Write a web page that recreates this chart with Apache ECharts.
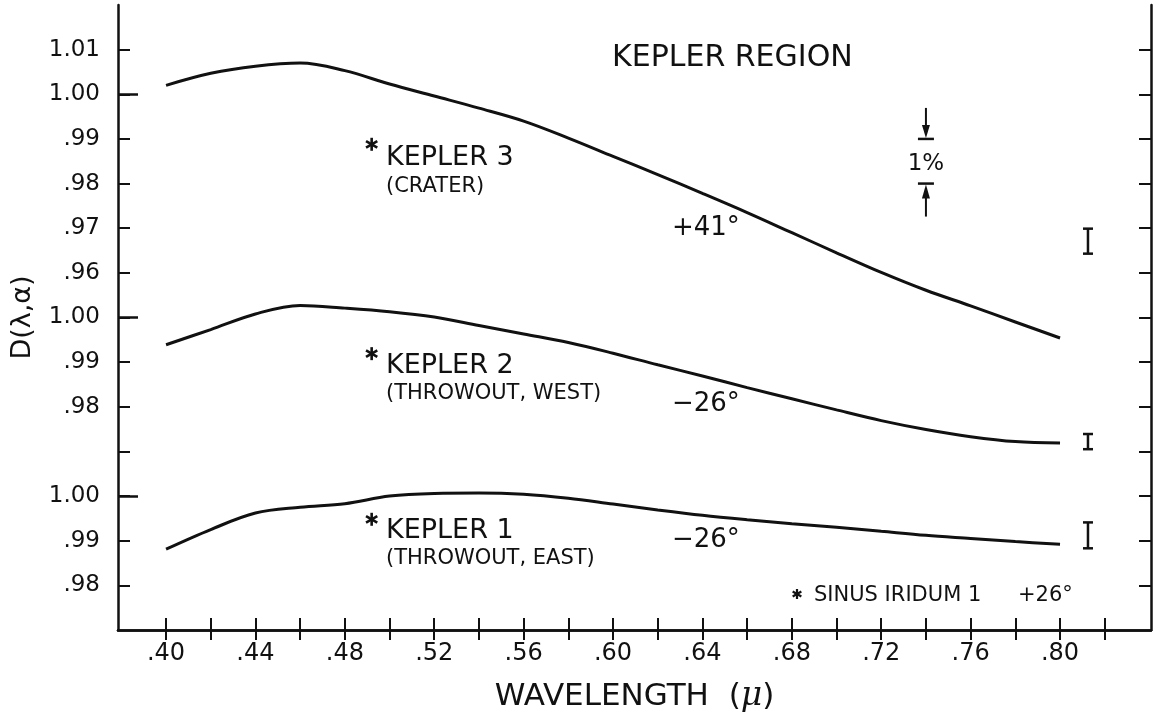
<!DOCTYPE html>
<html>
<head>
<meta charset="utf-8">
<title>Kepler Region</title>
<script src="https://cdn.jsdelivr.net/npm/echarts@6/dist/echarts.min.js"></script>
<style>
  html, body { margin: 0; padding: 0; background: #fff; }
  #chart { width: 1157px; height: 724px; }
</style>
</head>
<body>
<div id="chart"></div>
<script>
// Wavelength samples (microns)
const wavelengths = [0.40, 0.42, 0.44, 0.46, 0.48, 0.50, 0.52, 0.54, 0.56, 0.58, 0.60,
                     0.62, 0.64, 0.66, 0.68, 0.70, 0.72, 0.74, 0.76, 0.78, 0.80];

// D(lambda, alpha) for each site
const kepler3 = [1.0020, 1.0047, 1.0063, 1.0070, 1.0053, 1.0023, 0.9996, 0.9969, 0.9940, 0.9902, 0.9861,
                 0.9820, 0.9778, 0.9735, 0.9690, 0.9645, 0.9601, 0.9561, 0.9526, 0.9490, 0.9454];
const kepler2 = [0.9939, 0.9973, 1.0008, 1.0027, 1.0021, 1.0013, 1.0001, 0.9982, 0.9963, 0.9944, 0.9920,
                 0.9894, 0.9869, 0.9843, 0.9818, 0.9793, 0.9769, 0.9749, 0.9733, 0.9722, 0.9719];
const kepler1 = [0.9881, 0.9925, 0.9962, 0.9975, 0.9983, 1.0000, 1.0006, 1.0007, 1.0004, 0.9995, 0.9982,
                 0.9969, 0.9957, 0.9947, 0.9938, 0.9930, 0.9921, 0.9912, 0.9905, 0.9898, 0.9892];

// Sinus Iridum 1 reference points (asterisks), order: Kepler 3, Kepler 2, Kepler 1
const asteriskLambda = 0.492;
const asteriskValues = [0.9888, 0.9919, 0.9948];

// Error bars at the right edge, order: Kepler 3, Kepler 2, Kepler 1
const errorLambda = 0.8125;
const errorCenters = [0.9671, 0.9722, 0.9912];
const errorHalf = [0.0028, 0.0017, 0.0029];

// 1% scale marker (top panel)
const scaleLambda = 0.74;
const scaleRange = [0.98, 0.99];

// Axis ticks and labels
const xTickValues = [0.40, 0.42, 0.44, 0.46, 0.48, 0.50, 0.52, 0.54, 0.56, 0.58, 0.60,
                     0.62, 0.64, 0.66, 0.68, 0.70, 0.72, 0.74, 0.76, 0.78, 0.80, 0.82];
const xLabelValues = [0.40, 0.44, 0.48, 0.52, 0.56, 0.60, 0.64, 0.68, 0.72, 0.76, 0.80];
const yTickLabels = ['.98', '.99', '1.00', '', '.98', '.99', '1.00', '.96', '.97', '.98', '.99', '1.00', '1.01'];

// Each panel is shifted onto one shared stacked scale (1 unit = 0.01 in D)
// panel 0 = Kepler 3 (top), 1 = Kepler 2 (middle), 2 = Kepler 1 (bottom)
const panelShift = [88, 93, 97];
const toPos = (d, panel) => d * 100 - panelShift[panel];

const INK = '#111';
const FONT = 'DejaVu Sans';

const yTickPositions = yTickLabels.map((_, i) => i + 1);
const longTickPositions = [3, 7, 12];

function curveData(values, panel) {
  return wavelengths.map((w, i) => [w, toPos(values[i], panel)]);
}

const lineSeries = [kepler3, kepler2, kepler1].map((vals, panel) => ({
  type: 'line',
  data: curveData(vals, panel),
  smooth: 0.35,
  showSymbol: false,
  silent: true,
  lineStyle: { color: INK, width: 3 },
  z: 3
}));

function asteriskShape(cx, cy, r, w) {
  return [0, 60, 120].map(deg => {
    const a = deg * Math.PI / 180;
    const dx = Math.sin(a) * r, dy = Math.cos(a) * r;
    return {
      type: 'line',
      shape: { x1: cx - dx, y1: cy - dy, x2: cx + dx, y2: cy + dy },
      style: { stroke: INK, lineWidth: w, lineCap: 'butt' }
    };
  });
}

const asteriskSeries = {
  type: 'custom',
  silent: true,
  data: asteriskValues.map((v, panel) => [asteriskLambda, toPos(v, panel)]),
  renderItem: (params, api) => {
    const c = api.coord([api.value(0), api.value(1)]);
    return { type: 'group', children: asteriskShape(c[0], c[1], 6.5, 2.6) };
  },
  z: 4
};

const errorSeries = {
  type: 'custom',
  silent: true,
  data: errorCenters.map((c, panel) => [errorLambda, toPos(c - errorHalf[panel], panel), toPos(c + errorHalf[panel], panel)]),
  renderItem: (params, api) => {
    const lo = api.coord([api.value(0), api.value(1)]);
    const hi = api.coord([api.value(0), api.value(2)]);
    const cap = 5;
    const st = { stroke: INK, lineWidth: 2.5 };
    return {
      type: 'group',
      children: [
        { type: 'line', shape: { x1: lo[0], y1: lo[1], x2: hi[0], y2: hi[1] }, style: st },
        { type: 'line', shape: { x1: lo[0] - cap, y1: lo[1], x2: lo[0] + cap, y2: lo[1] }, style: st },
        { type: 'line', shape: { x1: hi[0] - cap, y1: hi[1], x2: hi[0] + cap, y2: hi[1] }, style: st }
      ]
    };
  },
  z: 4
};

const scaleSeries = {
  type: 'custom',
  silent: true,
  data: [[scaleLambda, toPos(scaleRange[1], 0), toPos(scaleRange[0], 0)]],
  renderItem: (params, api) => {
    const up = api.coord([api.value(0), api.value(1)]);
    const dn = api.coord([api.value(0), api.value(2)]);
    const x = up[0];
    const half = 8;
    const st = { stroke: INK, lineWidth: 2.5 };
    return {
      type: 'group',
      children: [
        { type: 'line', shape: { x1: x - half, y1: up[1], x2: x + half, y2: up[1] }, style: st },
        { type: 'line', shape: { x1: x, y1: up[1] - 31, x2: x, y2: up[1] - 12 }, style: { stroke: INK, lineWidth: 2 } },
        { type: 'polygon', shape: { points: [[x - 4, up[1] - 14], [x + 4, up[1] - 14], [x, up[1] - 1]] }, style: { fill: INK } },
        { type: 'line', shape: { x1: x - half, y1: dn[1], x2: x + half, y2: dn[1] }, style: st },
        { type: 'line', shape: { x1: x, y1: dn[1] + 12, x2: x, y2: dn[1] + 33 }, style: { stroke: INK, lineWidth: 2 } },
        { type: 'polygon', shape: { points: [[x - 4, dn[1] + 15], [x + 4, dn[1] + 15], [x, dn[1] + 1]] }, style: { fill: INK } },
        { type: 'text', style: { text: '1%', x: x, y: (up[1] + dn[1]) / 2 + 3, align: 'center', verticalAlign: 'middle', font: '23px "DejaVu Sans"', fill: INK } }
      ]
    };
  },
  z: 4
};

const xMin = 0.3785, xMax = 0.8407;
const axisLine = { show: true, lineStyle: { color: INK, width: 2.5 } };

function text(str, x, y, size) {
  return {
    type: 'text',
    x: x, y: y,
    silent: true,
    style: { text: str, font: size + 'px "DejaVu Sans"', fill: INK, verticalAlign: 'middle', align: 'left' }
  };
}

const option = {
  backgroundColor: '#fff',
  animation: false,
  grid: { left: 118, right: 6, top: 5, bottom: 94, containLabel: false, outerBoundsMode: 'none' },
  xAxis: [
    {
      type: 'value', position: 'bottom', min: xMin, max: xMax,
      axisLine: axisLine,
      axisTick: { show: true, inside: true, length: 12, customValues: xTickValues, lineStyle: { color: INK, width: 2 } },
      axisLabel: {
        customValues: xLabelValues, margin: 12, color: INK, fontSize: 24, fontFamily: FONT,
        formatter: v => v.toFixed(2).replace(/^0/, '')
      },
      splitLine: { show: false },
      name: 'WAVELENGTH  ({mu|μ})',
      nameLocation: 'middle',
      nameGap: 50,
      nameTextStyle: {
        color: INK, fontSize: 31, fontFamily: FONT,
        rich: { mu: { fontSize: 33, fontStyle: 'italic', fontFamily: 'DejaVu Serif', color: INK } }
      }
    },
    {
      type: 'value', position: 'top', min: xMin, max: xMax,
      axisLine: axisLine,
      axisTick: { show: true, inside: true, length: 10, customValues: xTickValues, lineStyle: { color: INK, width: 2 } },
      axisLabel: { show: false },
      splitLine: { show: false }
    }
  ],
  yAxis: [
    {
      type: 'value', position: 'left', min: 0, max: 14,
      axisLine: axisLine,
      axisTick: { show: true, inside: true, length: 12, customValues: yTickPositions, lineStyle: { color: INK, width: 2 } },
      axisLabel: {
        customValues: yTickPositions, margin: 18, color: INK, fontSize: 23, fontFamily: FONT,
        formatter: v => yTickLabels[Math.round(v) - 1] || ''
      },
      splitLine: { show: false },
      name: 'D(λ,α)',
      nameLocation: 'middle',
      nameGap: 82,
      nameRotate: 90,
      nameTextStyle: { color: INK, fontSize: 27, fontFamily: FONT }
    },
    {
      type: 'value', position: 'right', min: 0, max: 14,
      axisLine: axisLine,
      axisTick: { show: true, inside: true, length: 12, customValues: yTickPositions, lineStyle: { color: INK, width: 2 } },
      axisLabel: { show: false },
      splitLine: { show: false }
    },
    {
      // longer ticks marking each panel's 1.00 level
      type: 'value', position: 'left', min: 0, max: 14,
      axisLine: { show: false },
      axisTick: { show: true, inside: true, length: 20, customValues: longTickPositions, lineStyle: { color: INK, width: 2.5 } },
      axisLabel: { show: false },
      splitLine: { show: false }
    }
  ],
  graphic: [
    text('KEPLER REGION', 612, 58, 30),
    text('KEPLER 3', 386, 158, 27),
    text('(CRATER)', 386, 187, 21),
    text('+41°', 672, 228, 26),
    text('KEPLER 2', 386, 366, 27),
    text('(THROWOUT, WEST)', 386, 394, 21),
    text('−26°', 672, 404, 26),
    text('KEPLER 1', 386, 531, 27),
    text('(THROWOUT, EAST)', 386, 559, 21),
    text('−26°', 672, 540, 26),
    { type: 'group', silent: true, children: asteriskShape(797, 594, 5, 2.2) },
    text('SINUS IRIDUM 1', 814, 596, 21),
    text('+26°', 1018, 596, 21)
  ],
  series: [...lineSeries, asteriskSeries, errorSeries, scaleSeries]
};

const chart = echarts.init(document.getElementById('chart'), null, { renderer: 'canvas' });
chart.setOption(option);
</script>
</body>
</html>
